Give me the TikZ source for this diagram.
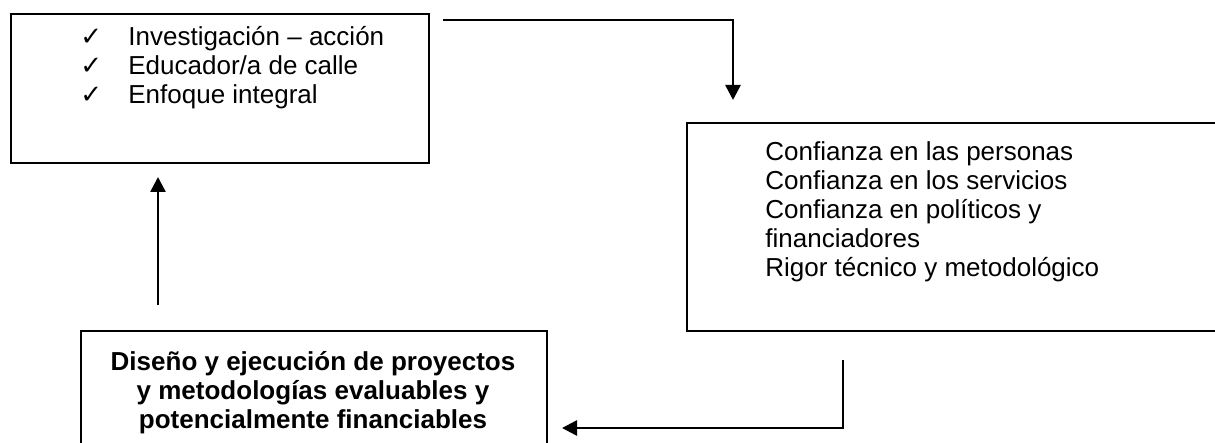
\documentclass[tikz,border=0pt]{standalone}
\usepackage{fontspec}
\setmainfont{Liberation Sans}
\newfontfamily\simbolos{DejaVu Sans}
\usetikzlibrary{positioning,arrows.meta}

\begin{document}
\begin{tikzpicture}[x = 0.5pt, y = -0.5pt,
		caja/.style = {draw, line width = 1pt, inner sep = 0pt, anchor = north west},
		texto/.style = {inner sep = 0pt, anchor = base west, font = \fontsize{13}{14.5}\selectfont},
		negrita/.style = {inner sep = 0pt, anchor = base, font = \fontsize{13}{14.5}\selectfont\bfseries},
		flecha/.style = {line width = 1.3pt, -{Triangle[length = 7.5pt, width = 7.5pt]}}]
		\useasboundingbox (0, 0) rectangle (1215, 443);
		% cajas
		\node[caja, minimum width = 209pt, minimum height = 74.5pt] (metodos) at (10, 13) {};
		\node[caja, minimum width = 270pt, minimum height = 104pt] (confianza) at (686, 122) {};
		\node[caja, minimum width = 233pt, minimum height = 70pt] (diseno) at (80, 330) {};
		% textos
		\foreach \t [count = \i] in {Investigación – acción, Educador/a de calle, Enfoque integral}{
			\node[texto] (check\i) at (80, 46 + 29*\i - 29) {\simbolos\fontsize{13}{14}\selectfont ✓};
			\node[texto] (metodo\i) at (128, 46 + 29*\i - 29) {\t};
		}
		\foreach \t [count = \i] in {Confianza en las personas, Confianza en los servicios, Confianza en políticos y, financiadores, Rigor técnico y metodológico}
			\node[texto] (conf\i) at (765, 161 + 28.8*\i - 28.8) {\t};
		\foreach \t [count = \i] in {Diseño y ejecución de proyectos, y metodologías evaluables y, potencialmente financiables}
			\node[negrita] (dis\i) at (313, 370 + 29*\i - 29) {\t};
		% flechas
		\coordinate (a1) at (443, 20);
		\coordinate (a2) at (733, 100);
		\coordinate (b1) at (843, 360);
		\coordinate (b2) at (562, 428);
		\coordinate (c1) at (158, 305);
		\coordinate (c2) at (158, 177);
		\draw[flecha] (a1) -| (a2);
		\draw[flecha] (b1) |- (b2);
		\draw[flecha] (c1) -- (c2);
	\end{tikzpicture}
\end{document}
